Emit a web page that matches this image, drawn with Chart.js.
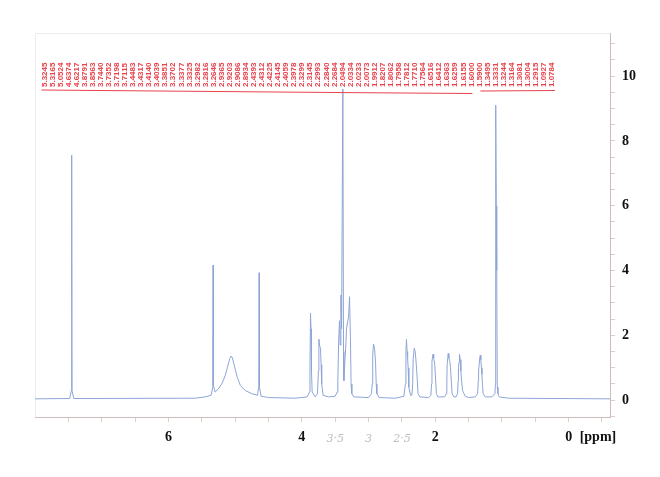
<!DOCTYPE html>
<html>
<head>
<meta charset="utf-8">
<title>1H NMR spectrum</title>
<script src="https://cdn.jsdelivr.net/npm/chart.js@4.4.0/dist/chart.umd.min.js"></script>
<style>
  html, body { margin: 0; padding: 0; background: #fff; }
  canvas { display: block; }
</style>
</head>
<body>
<canvas id="nmr" width="660" height="477"></canvas>
<script>
// spectrum trace: chemical shift (ppm) and intensity
const tracePpm = [
  8.00, 7.48, 7.455, 7.45, 7.445, 7.42,
  5.60, 5.45, 5.36, 5.335, 5.33, 5.325, 5.30,
  5.25, 5.20, 5.15, 5.11, 5.08, 5.06, 5.04, 5.01, 4.97, 4.92, 4.85, 4.75,
  4.665, 4.645, 4.64, 4.635, 4.61, 4.50,
  4.10, 3.92, 3.885, 3.878, 3.870, 3.862, 3.855, 3.845, 3.80,
  3.765, 3.752, 3.744, 3.735, 3.720, 3.711, 3.702, 3.68, 3.60,
  3.50, 3.47, 3.46, 3.448, 3.435, 3.425, 3.414, 3.404, 3.385, 3.375, 3.37,
  3.338, 3.33, 3.298, 3.285, 3.27, 3.262, 3.25, 3.22,
  3.00, 2.955, 2.945, 2.937, 2.925, 2.91, 2.895, 2.885, 2.875, 2.84,
  2.60, 2.47, 2.448, 2.439, 2.431, 2.422, 2.414, 2.406, 2.396, 2.37, 2.35,
  2.338, 2.33, 2.315, 2.30, 2.284, 2.268, 2.258, 2.23,
  2.10, 2.065, 2.055, 2.049, 2.033, 2.023, 2.007, 1.991, 1.982, 1.96,
  1.86, 1.835, 1.826, 1.821, 1.806, 1.796, 1.781, 1.771, 1.756, 1.747, 1.72,
  1.69, 1.665, 1.657, 1.652, 1.641, 1.636, 1.626, 1.616, 1.600, 1.59, 1.58, 1.55, 1.50,
  1.40, 1.365, 1.355, 1.350, 1.333, 1.324, 1.316, 1.308, 1.300, 1.291, 1.282, 1.25,
  1.15, 1.105, 1.098, 1.093, 1.085, 1.078, 1.07, 1.06, 1.04, 0.90, -0.62
];
const traceInt = [
  0.04, 0.05, 0.3, 7.56, 0.3, 0.05,
  0.06, 0.10, 0.15, 0.4, 4.17, 0.45, 0.25,
  0.35, 0.5, 0.75, 1.05, 1.28, 1.36, 1.30, 1.05, 0.72, 0.45, 0.3, 0.2,
  0.15, 0.4, 3.93, 0.4, 0.12, 0.08,
  0.06, 0.1, 0.25, 0.9, 2.69, 2.2, 0.9, 0.25, 0.1,
  0.2, 0.9, 1.88, 1.7, 1.6, 1.1, 0.5, 0.15, 0.1,
  0.12, 0.25, 0.6, 1.8, 2.45, 1.7, 3.24, 2.2, 9.6, 1.5, 0.6,
  1.8, 2.2, 2.6, 3.19, 1.8, 0.5, 0.2, 0.1,
  0.08, 0.2, 0.5, 1.4, 1.73, 1.6, 1.2, 0.5, 0.2, 0.08,
  0.06, 0.12, 0.5, 1.5, 1.87, 1.5, 1.3, 1.0, 0.4, 0.15, 0.15,
  0.5, 1.3, 1.6, 1.5, 1.1, 0.6, 0.2, 0.1,
  0.08, 0.15, 0.5, 1.2, 1.42, 1.3, 1.1, 0.5, 0.2, 0.1,
  0.1, 0.2, 0.6, 1.1, 1.44, 1.3, 1.2, 1.0, 0.5, 0.2, 0.1,
  0.1, 0.2, 0.6, 1.0, 1.2, 1.42, 1.25, 0.9, 0.5, 0.3, 0.25, 0.12, 0.08,
  0.1, 0.2, 0.6, 0.9, 1.3, 1.39, 1.25, 1.0, 0.8, 0.45, 0.2, 0.1,
  0.1, 0.2, 0.5, 9.1, 6.0, 4.0, 0.4, 0.2, 0.1, 0.06, 0.04
];

// peak picking labels printed along the top
const peakLabels = [
  '5.3245', '5.3165', '5.0524', '4.6374', '4.6217', '3.8791', '3.8563', '3.7440',
  '3.7352', '3.7198', '3.7115', '3.4483', '3.4317', '3.4140', '3.4039', '3.3851',
  '3.3702', '3.3377', '3.3325', '3.2982', '3.2816', '3.2646', '2.9365', '2.9203',
  '2.9086', '2.8934', '2.4393', '2.4312', '2.4225', '2.4145', '2.4059', '2.3978',
  '2.3299', '2.3145', '2.2993', '2.2840', '2.2684', '2.0494', '2.0334', '2.0233',
  '2.0073', '1.9912', '1.8207', '1.8062', '1.7958', '1.7812', '1.7710', '1.7564',
  '1.6516', '1.6412', '1.6363', '1.6259', '1.6155', '1.6000', '1.5900', '1.3495',
  '1.3331', '1.3244', '1.3164', '1.3081', '1.3004', '1.2915', '1.0927', '1.0784'
];

// axis ticks
const xTicks = [7.5, 7, 6.5, 6, 5.5, 5, 4.5, 4, 3.5, 3, 2.5, 2, 1.5, 1, 0.5, 0, -0.5];
const xTickLabels = [6, 4, 2, 0];
const yTicks = [-0.5, 0, 0.5, 1, 1.5, 2, 2.5, 3, 3.5, 4, 4.5, 5, 5.5, 6, 6.5, 7, 7.5, 8, 8.5, 9, 9.5, 10, 10.5, 11];
const yTickLabels = [0, 2, 4, 6, 8, 10];

// pencil notes under the axis
const notePpm = [3.5, 3.0, 2.5];
const noteText = ['3·5', '3', '2·5'];

const axisColor = '#dccccc';
const tickFont = { family: 'Liberation Serif', weight: 'bold', size: 14 };

// frame, peak labels, unit and notes
const decorPlugin = {
  id: 'decor',
  beforeDatasetsDraw(chart) {
    const { ctx, chartArea: a } = chart;
    ctx.save();
    ctx.strokeStyle = 'rgba(0,0,0,0.07)';
    ctx.lineWidth = 1;
    ctx.strokeRect(a.left + 0.5, a.top + 0.5, a.right - a.left, a.bottom - a.top);
    ctx.restore();
  },
  afterDraw(chart) {
    const { ctx } = chart;
    const xs = chart.scales.x;
    const x0 = xs.getPixelForValue(7.86);
    const x1 = xs.getPixelForValue(0.25);
    const step = (x1 - x0) / (peakLabels.length - 1);

    ctx.save();
    ctx.fillStyle = '#e8434d';
    ctx.strokeStyle = '#e8434d';
    ctx.font = 'bold 8px "Liberation Sans"';
    ctx.textAlign = 'left';
    ctx.textBaseline = 'middle';
    peakLabels.forEach((t, i) => {
      ctx.save();
      ctx.translate(x0 + i * step, 87);
      ctx.rotate(-Math.PI / 2);
      ctx.fillText(t, 0, 0);
      ctx.restore();
    });
    ctx.lineWidth = 1.2;
    ctx.beginPath();
    ctx.moveTo(x0 - 3, 90);
    ctx.lineTo(x0 + 290, 92.5);
    ctx.lineTo(x0 + 428, 93.5);
    ctx.moveTo(x0 + 436, 91);
    ctx.lineTo(x1 + 3, 90.5);
    ctx.stroke();

    // unit after the 0 tick
    ctx.fillStyle = '#111';
    ctx.font = 'bold 14px "Liberation Serif"';
    ctx.textBaseline = 'middle';
    ctx.fillText('[ppm]', xs.getPixelForValue(0) + 11, 437);

    // pencil notes
    ctx.fillStyle = '#bdbdbd';
    ctx.font = 'italic 11px "DejaVu Serif"';
    ctx.textAlign = 'center';
    notePpm.forEach((p, i) => {
      ctx.fillText(noteText[i], xs.getPixelForValue(p), 439);
    });
    ctx.restore();
  }
};

const data = tracePpm.map((p, i) => ({ x: p, y: traceInt[i] }));

new Chart(document.getElementById('nmr'), {
  type: 'line',
  data: {
    datasets: [{
      data: data,
      borderColor: '#8ea5d6',
      borderWidth: 1,
      pointRadius: 0,
      tension: 0,
      fill: false
    }]
  },
  options: {
    responsive: false,
    animation: false,
    layout: { padding: { left: 35, top: 33, right: 0, bottom: 0 } },
    plugins: {
      legend: { display: false },
      tooltip: { enabled: false }
    },
    scales: {
      x: {
        type: 'linear',
        reverse: true,
        min: -0.62,
        max: 8.0,
        afterBuildTicks: s => { s.ticks = xTicks.map(v => ({ value: v })); },
        afterFit: s => { s.height = 60; },
        grid: { drawOnChartArea: false, drawTicks: true, tickLength: 5, color: axisColor },
        border: { display: true, color: axisColor },
        ticks: {
          autoSkip: false,
          maxRotation: 0,
          padding: 7,
          color: '#111',
          font: tickFont,
          callback: v => xTickLabels.includes(v) ? String(v) : ''
        }
      },
      y: {
        type: 'linear',
        position: 'right',
        min: -0.52,
        max: 11.33,
        afterBuildTicks: s => { s.ticks = yTicks.map(v => ({ value: v })); },
        afterFit: s => { s.width = 50; },
        grid: { drawOnChartArea: false, drawTicks: true, tickLength: 5, color: axisColor },
        border: { display: true, color: axisColor },
        ticks: {
          autoSkip: false,
          padding: 7,
          color: '#111',
          font: tickFont,
          callback: v => yTickLabels.includes(v) ? String(v) : ''
        }
      }
    }
  },
  plugins: [decorPlugin]
});
</script>
</body>
</html>
